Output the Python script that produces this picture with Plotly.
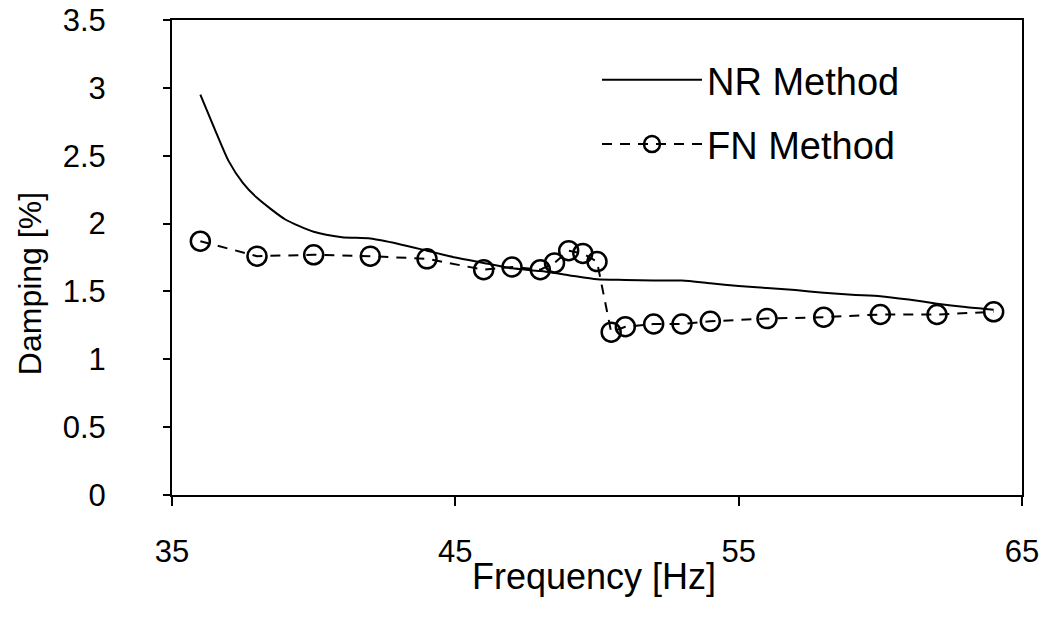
import plotly.graph_objects as go

# NR method (continuous curve)
nr_freq = [36, 36.5, 37, 37.5, 38, 39, 40, 41, 42, 43, 44, 45, 46, 47, 48, 49, 50, 51, 52, 53,
           54, 55, 56, 57, 58, 59, 60, 61, 62, 63, 64]
nr_damp = [2.95, 2.70, 2.46, 2.30, 2.19, 2.03, 1.94, 1.90, 1.89, 1.85, 1.80, 1.75, 1.71, 1.67, 1.65, 1.62, 1.59, 1.585, 1.58, 1.58,
           1.56, 1.54, 1.525, 1.51, 1.49, 1.475, 1.465, 1.44, 1.41, 1.385, 1.365]

# FN method (markers)
fn_freq = [36, 38, 40, 42, 44, 46, 47, 48, 48.5, 49, 49.5, 50, 50.5, 51, 52, 53, 54, 56, 58, 60, 62, 64]
fn_damp = [1.87, 1.76, 1.77, 1.76, 1.74, 1.66, 1.68, 1.66, 1.71, 1.80, 1.78, 1.72, 1.20, 1.24, 1.26, 1.26, 1.28, 1.30, 1.31, 1.33, 1.33, 1.35]

FONT = "Liberation Sans, Arial, sans-serif"

fig = go.Figure()
fig.add_trace(go.Scatter(
    x=nr_freq, y=nr_damp, mode="lines", name="NR Method",
    line=dict(color="black", width=2, shape="spline", smoothing=0.6),
    legendgroup="nr",
))
fig.add_trace(go.Scatter(
    x=fn_freq, y=fn_damp, mode="lines+markers", name="FN Method",
    line=dict(color="black", width=2, dash="10px,8px"),
    marker=dict(symbol="circle-open", size=19, color="black", line=dict(width=2.5)),
    legendgroup="fn",
))

axis_common = dict(
    showline=True, linecolor="black", linewidth=2, mirror=True,
    showgrid=False, zeroline=False, automargin=False,
    ticks="outside", tickcolor="black", tickwidth=2,
    tickfont=dict(family=FONT, size=31, color="black"),
    ticklabeloverflow="allow",
)

fig.update_xaxes(
    range=[35, 65], tickvals=[35, 45, 55, 65], ticklen=9, ticklabelstandoff=19,
    **axis_common,
)
fig.update_yaxes(
    range=[0, 3.5], dtick=0.5, ticklen=7, ticklabelstandoff=51,
    **axis_common,
)

# axis titles as annotations so they can sit where the original has them
fig.add_annotation(
    text="Frequency [Hz]", showarrow=False,
    xref="paper", yref="paper", x=0.496, y=-0.172,
    xanchor="center", yanchor="middle",
    font=dict(family=FONT, size=36, color="black"),
)
fig.add_annotation(
    text="Damping [%]", textangle=-90, showarrow=False,
    xref="paper", yref="paper", x=-0.167, y=0.444,
    xanchor="center", yanchor="middle",
    font=dict(family=FONT, size=32, color="black"),
)

fig.update_layout(
    width=1052, height=627,
    margin=dict(l=172, r=30, t=20, b=132),
    plot_bgcolor="white", paper_bgcolor="white",
    font=dict(family=FONT, size=31, color="black"),
    legend=dict(
        x=0.5, y=0.94, xanchor="left", yanchor="top",
        bgcolor="rgba(0,0,0,0)", itemwidth=100,
        tracegroupgap=12, traceorder="grouped",
        font=dict(family=FONT, size=38, color="black"),
    ),
    showlegend=True,
)

# drop the default body margin so the figure fills the window exactly
fig.write_html("out.html", config={"displayModeBar": False},
               post_script="document.body.style.margin='0';")
